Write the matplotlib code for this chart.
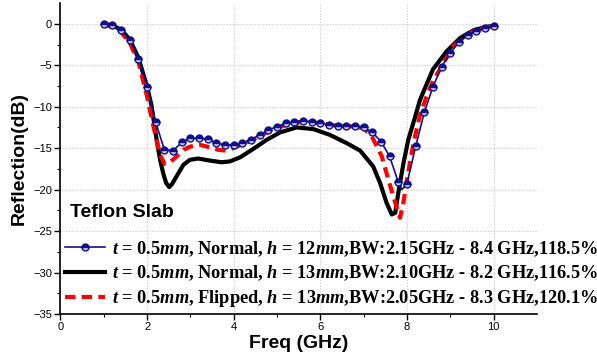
import numpy as np
import matplotlib.pyplot as plt

# Datos (azul: marcadores cada 0.2 GHz)
freq_azul = [1.0, 1.2, 1.4, 1.6, 1.8, 2.0, 2.2, 2.4, 2.6, 2.8, 3.0, 3.2, 3.4, 3.6,
             3.8, 4.0, 4.2, 4.4, 4.6, 4.8, 5.0, 5.2, 5.4, 5.6, 5.8, 6.0, 6.2, 6.4,
             6.6, 6.8, 7.0, 7.2, 7.4, 7.6, 7.8, 7.88, 8.0, 8.2, 8.4, 8.6, 8.8, 9.0,
             9.2, 9.4, 9.6, 9.8, 10.0]
refl_azul = [0.0, -0.2, -0.8, -2.0, -4.2, -7.6, -11.9, -15.2, -15.3, -14.3, -13.8,
             -13.8, -13.9, -14.4, -14.6, -14.6, -14.4, -14.0, -13.4, -12.8, -12.4,
             -12.0, -11.8, -11.7, -11.8, -12.0, -12.2, -12.3, -12.3, -12.3, -12.5,
             -13.1, -14.2, -16.0, -19.1, -20.0, -19.3, -14.8, -10.7, -7.6, -5.2,
             -3.5, -2.25, -1.4, -0.9, -0.5, -0.25]
# el punto 7.88 solo da forma a la linea, no lleva marcador
marcas_azul = [i for i, f in enumerate(freq_azul) if f != 7.88]

freq_negro = [1.0, 1.2, 1.4, 1.6, 1.8, 2.0, 2.1, 2.22, 2.3, 2.37, 2.44, 2.51, 2.58,
              2.68, 2.84, 2.99, 3.18, 3.45, 3.72, 3.91, 4.15, 4.45, 4.76, 5.07,
              5.45, 5.84, 6.22, 6.61, 6.92, 7.22, 7.38, 7.53, 7.65, 7.73, 7.8,
              7.92, 8.03, 8.19, 8.3, 8.6, 8.92, 9.23, 9.53, 9.8, 10.0]
refl_negro = [0.0, -0.2, -0.7, -1.9, -4.1, -7.6, -9.8, -14.0, -16.4, -18.0, -19.2,
              -19.7, -19.3, -18.4, -17.0, -16.4, -16.25, -16.5, -16.7, -16.6, -16.1,
              -15.1, -14.0, -13.1, -12.5, -12.7, -13.4, -14.4, -15.3, -17.2, -19.2,
              -21.6, -23.0, -22.8, -20.4, -16.8, -14.0, -11.2, -9.2, -5.5, -3.3,
              -1.7, -0.8, -0.4, -0.25]

freq_rojo = [1.0, 1.2, 1.4, 1.6, 1.8, 2.0, 2.1, 2.2, 2.3, 2.4, 2.5, 2.64, 2.84, 3.0,
             3.22, 3.45, 3.64, 3.84, 4.03, 4.4, 4.8, 5.2, 5.6, 6.0, 6.4, 6.8, 7.0,
             7.19, 7.42, 7.57, 7.73, 7.84, 7.92, 8.0, 8.15, 8.3, 8.45, 8.6, 8.76,
             9.07, 9.3, 9.53, 10.0]
refl_rojo = [-0.1, -0.4, -1.0, -2.3, -4.6, -8.8, -11.3, -13.6, -15.8, -16.9, -16.8,
             -16.2, -15.2, -14.8, -14.6, -14.9, -15.2, -15.3, -14.9, -14.1, -13.0,
             -12.2, -11.8, -12.0, -12.3, -12.4, -12.6, -13.6, -16.0, -18.8, -21.6,
             -23.4, -21.5, -18.8, -14.4, -11.0, -8.8, -6.9, -5.5, -2.7, -1.6, -0.9,
             -0.2]

etiquetas = [
    r'$t$ = 0.5$mm$, Normal, $h$ = 12$mm$,BW:2.15GHz - 8.4 GHz,118.5%',
    r'$t$ = 0.5$mm$, Normal, $h$ = 13$mm$,BW:2.10GHz - 8.2 GHz,116.5%',
    r'$t$ = 0.5$mm$, Flipped, $h$ = 13$mm$,BW:2.05GHz - 8.3 GHz,120.1%',
]

plt.rcParams['mathtext.fontset'] = 'custom'
plt.rcParams['mathtext.it'] = 'Liberation Serif:italic:bold'
plt.rcParams['mathtext.rm'] = 'Liberation Serif:bold'
plt.rcParams['mathtext.bf'] = 'Liberation Serif:bold'

fig = plt.figure(figsize=(5.97, 3.62), dpi=100)
ax = fig.add_axes([0.1013, 0.1326, 0.798, 0.859])

ax.plot(freq_azul, refl_azul, color='#10108a', lw=1.2, marker='o', ms=5,
        markevery=marcas_azul, fillstyle='top', markerfacecoloralt='#c8c8e8',
        markeredgecolor='#10108a', markeredgewidth=1.0, label=etiquetas[0],
        zorder=4)
ax.plot(freq_negro, refl_negro, color='black', lw=3, label=etiquetas[1], zorder=2)
ax.plot(freq_rojo, refl_rojo, color='#ff0000', lw=3, dashes=(2.5, 1.5),
        label=etiquetas[2], zorder=3)

ax.set_xlim(0, 11)
ax.set_ylim(-35, 2.5)
ax.set_xticks(np.arange(0, 11, 2))
ax.set_xticks(np.arange(1, 11, 2), minor=True)
ax.set_yticks(np.arange(-35, 1, 5))
ax.set_yticks(np.arange(-32.5, 2.5, 5), minor=True)
ax.grid(True, which='major', color='#c8c8c8', ls=(0, (1, 1.5)), lw=0.8)

for lado in ['top', 'right']:
    ax.spines[lado].set_visible(False)
ax.spines['left'].set_linewidth(1.2)
ax.spines['bottom'].set_linewidth(1.2)
ax.tick_params(which='major', direction='out', length=4, width=1,
               labelsize=8, pad=2)
ax.tick_params(which='minor', direction='out', length=2.5, width=0.8)
for t in ax.get_xticklabels() + ax.get_yticklabels():
    t.set_fontfamily('Liberation Sans')

ax.set_xlabel('Freq (GHz)', fontsize=14, fontweight='bold',
              fontfamily='Liberation Sans', labelpad=2)
ax.set_ylabel('Reflection(dB)', fontsize=14, fontweight='bold',
              fontfamily='Liberation Sans', labelpad=4)

ax.text(0.22, -22.7, 'Teflon Slab', fontsize=14, fontweight='bold',
        fontfamily='Liberation Sans', va='center', ha='left')

ax.legend(loc='lower left', bbox_to_anchor=(0.0, 0.0), frameon=False,
          prop={'family': 'Liberation Serif', 'weight': 'bold', 'size': 13.2},
          handlelength=2.2, handletextpad=0.35, labelspacing=0.28,
          borderaxespad=0.05, borderpad=0.2)

fig.savefig('out.png', dpi=100)
